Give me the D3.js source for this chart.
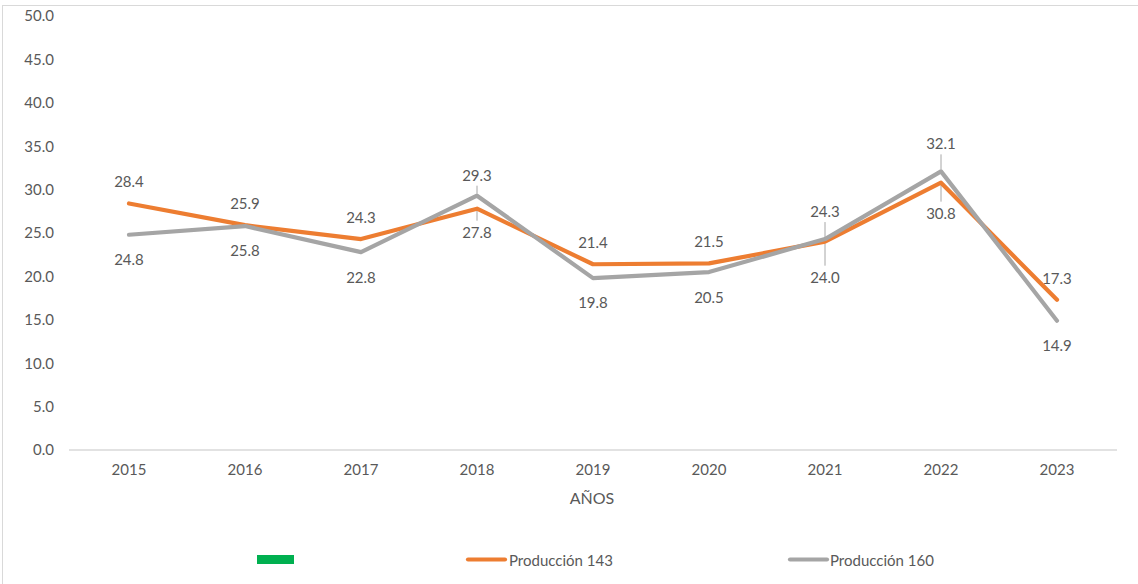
<!DOCTYPE html>
<html>
<head>
<meta charset="utf-8">
<script src="https://cdn.jsdelivr.net/npm/d3@7"></script>
<style>
  html, body { margin: 0; padding: 0; background: #fff; }
  svg { display: block; }
  text { font-family: Lato, "Open Sans", sans-serif; fill: #595959; }
</style>
</head>
<body>
<svg id="chart" width="1138" height="584"></svg>
<script>
// ---- data ----
const years = ["2015", "2016", "2017", "2018", "2019", "2020", "2021", "2022", "2023"];
const prod143 = [28.4, 25.9, 24.3, 27.8, 21.4, 21.5, 24.0, 30.8, 17.3];
const prod160 = [24.8, 25.8, 22.8, 29.3, 19.8, 20.5, 24.3, 32.1, 14.9];
const yTicks = [0, 5, 10, 15, 20, 25, 30, 35, 40, 45, 50];
const seriesNames = ["Producción 143", "Producción 160"];
const xTitle = "AÑOS";

// label placement (px offset of label center from point; leader = draw connector)
const lab143 = [-22, -22, -22, 23, -22, -22, 35, 30, -22];
const lab160 = [24, 24, 25, -21, 24, 25, -28, -28, 24];
const lead143 = [0, 0, 0, 1, 0, 0, 1, 1, 0];
const lead160 = [0, 0, 0, 1, 0, 0, 1, 1, 0];

const svg = d3.select("#chart");
const W = 1138, H = 584;

// chart border
svg.append("rect").attr("x", 2.5).attr("y", 5.5).attr("width", W + 10).attr("height", H + 10)
  .attr("fill", "none").attr("stroke", "#D9D9D9").attr("stroke-width", 1);

const x = d3.scaleBand().domain(years).range([71, 1115]);
const y = d3.scaleLinear().domain([0, 50]).range([450, 16]);
const cx = d => x(d) + x.bandwidth() / 2;

// y axis labels
const yAxis = d3.axisLeft(y).tickValues(yTicks).tickFormat(d3.format(".1f")).tickSize(0).tickPadding(0);
const gy = svg.append("g").attr("transform", "translate(54,0)").call(yAxis);
gy.select(".domain").remove();
gy.selectAll("text").style("font-size", "15px").attr("fill", "#595959");

// x axis
const xAxis = d3.axisBottom(x).tickSize(0).tickPadding(14);
const gx = svg.append("g").attr("transform", "translate(0,450)").call(xAxis);
gx.select(".domain").attr("stroke", "#D9D9D9").attr("stroke-width", 1.3).attr("d", "M69,0H1117");
gx.selectAll("text").style("font-size", "15px").attr("fill", "#595959");

svg.append("text").attr("x", 592).attr("y", 504).attr("text-anchor", "middle")
  .style("font-size", "16px").text(xTitle);

const line = d3.line().x((d, i) => cx(years[i])).y(d => y(d));

const series = [
  { vals: prod160, color: "#A5A5A5", lab: lab160, lead: lead160 },
  { vals: prod143, color: "#ED7D31", lab: lab143, lead: lead143 }
];

// leader lines first
series.forEach(s => {
  s.vals.forEach((v, i) => {
    if (!s.lead[i]) return;
    const py = y(v);
    const ly = py + s.lab[i];
    const sgn = Math.sign(s.lab[i]);
    svg.append("line")
      .attr("x1", cx(years[i])).attr("x2", cx(years[i]))
      .attr("y1", ly - sgn * 11).attr("y2", py + sgn * 2)
      .attr("stroke", "#A6A6A6").attr("stroke-width", 1);
  });
});

// lines
[series[1], series[0]].forEach(s => {
  svg.append("path").datum(s.vals).attr("d", line)
    .attr("fill", "none").attr("stroke", s.color).attr("stroke-width", 4.2)
    .attr("stroke-linejoin", "round").attr("stroke-linecap", "round");
});

// data labels
series.forEach(s => {
  s.vals.forEach((v, i) => {
    svg.append("text")
      .attr("x", cx(years[i])).attr("y", y(v) + s.lab[i])
      .attr("text-anchor", "middle").attr("dominant-baseline", "central")
      .style("font-size", "15px").text(d3.format(".1f")(v));
  });
});

// legend
const lg = svg.append("g");
lg.append("rect").attr("x", 257).attr("y", 555).attr("width", 37).attr("height", 9).attr("fill", "#00B050");
lg.append("line").attr("x1", 468).attr("x2", 505).attr("y1", 559.5).attr("y2", 559.5)
  .attr("stroke", "#ED7D31").attr("stroke-width", 4.2).attr("stroke-linecap", "round");
lg.append("text").attr("x", 509).attr("y", 560).attr("dominant-baseline", "central")
  .style("font-size", "15px").text(seriesNames[0]);
lg.append("line").attr("x1", 790).attr("x2", 827).attr("y1", 559.5).attr("y2", 559.5)
  .attr("stroke", "#A5A5A5").attr("stroke-width", 4.2).attr("stroke-linecap", "round");
lg.append("text").attr("x", 830).attr("y", 560).attr("dominant-baseline", "central")
  .style("font-size", "15px").text(seriesNames[1]);
</script>
</body>
</html>
